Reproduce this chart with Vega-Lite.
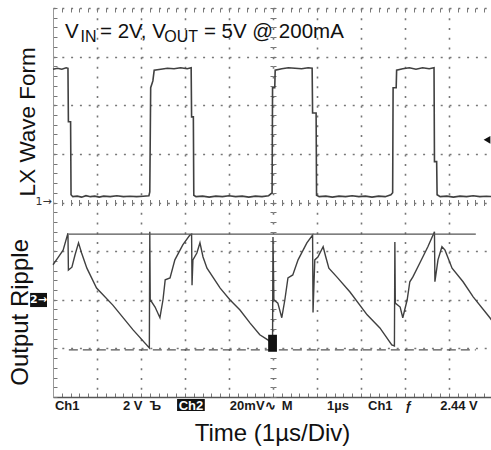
{
  "$schema": "https://vega.github.io/schema/vega-lite/v6.json",
  "width": 438,
  "height": 389,
  "autosize": "none",
  "padding": {"left": 53, "top": 8, "right": 0, "bottom": 53},
  "background": "white",
  "config": {"font": "Liberation Sans", "view": {"stroke": null}},
  "resolve": {"axis": {"x": "independent", "y": "independent"}},
  "layer": [
    {
      "data": {"values": [
        {"t":0,"v":6.74},{"t":0.1,"v":6.76},{"t":0.2,"v":6.74},{"t":0.3,"v":6.77},{"t":0.34,"v":6.76},{"t":0.35,"v":5.66},{"t":0.4,"v":5.66},{"t":0.41,"v":4.16},{"t":0.45,"v":4.12},{"t":0.55,"v":4.13},{"t":0.65,"v":4.11},{"t":0.75,"v":4.14},{"t":0.85,"v":4.12},{"t":0.95,"v":4.13},{"t":1.05,"v":4.11},{"t":1.15,"v":4.13},{"t":1.3,"v":4.12},{"t":1.45,"v":4.14},{"t":1.6,"v":4.12},{"t":1.75,"v":4.13},{"t":1.9,"v":4.12},{"t":2.05,"v":4.13},{"t":2.18,"v":4.14},{"t":2.2,"v":4.22},{"t":2.22,"v":6.36},{"t":2.27,"v":6.5},{"t":2.3,"v":6.72},{"t":2.45,"v":6.74},{"t":2.6,"v":6.76},{"t":2.75,"v":6.75},{"t":2.9,"v":6.77},{"t":3.05,"v":6.75},{"t":3.14,"v":6.77},{"t":3.15,"v":5.76},{"t":3.19,"v":5.76},{"t":3.2,"v":4.15},{"t":3.25,"v":4.12},{"t":3.4,"v":4.13},{"t":3.55,"v":4.11},{"t":3.7,"v":4.13},{"t":3.85,"v":4.12},{"t":4.0,"v":4.14},{"t":4.15,"v":4.12},{"t":4.3,"v":4.13},{"t":4.45,"v":4.11},{"t":4.6,"v":4.13},{"t":4.75,"v":4.12},{"t":4.9,"v":4.14},{"t":4.98,"v":4.2},{"t":4.99,"v":6.36},{"t":5.04,"v":6.36},{"t":5.05,"v":6.72},{"t":5.2,"v":6.75},{"t":5.35,"v":6.77},{"t":5.5,"v":6.76},{"t":5.65,"v":6.75},{"t":5.8,"v":6.77},{"t":5.89,"v":6.76},{"t":5.9,"v":5.84},{"t":5.98,"v":5.84},{"t":5.99,"v":4.15},{"t":6.05,"v":4.12},{"t":6.2,"v":4.13},{"t":6.35,"v":4.11},{"t":6.5,"v":4.13},{"t":6.65,"v":4.12},{"t":6.8,"v":4.14},{"t":6.95,"v":4.12},{"t":7.1,"v":4.13},{"t":7.25,"v":4.11},{"t":7.4,"v":4.13},{"t":7.55,"v":4.12},{"t":7.68,"v":4.16},{"t":7.72,"v":4.2},{"t":7.73,"v":6.36},{"t":7.8,"v":6.36},{"t":7.81,"v":6.72},{"t":7.95,"v":6.75},{"t":8.1,"v":6.77},{"t":8.25,"v":6.74},{"t":8.4,"v":6.77},{"t":8.55,"v":6.75},{"t":8.66,"v":6.77},{"t":8.67,"v":4.84},{"t":8.72,"v":4.84},{"t":8.73,"v":4.16},{"t":8.8,"v":4.12},{"t":8.95,"v":4.13},{"t":9.1,"v":4.11},{"t":9.25,"v":4.13},{"t":9.4,"v":4.12},{"t":9.55,"v":4.14},{"t":9.7,"v":4.12},{"t":9.85,"v":4.13},{"t":10,"v":4.12}
      ]},
      "mark": {"type": "line", "color": "#404040", "strokeWidth": 1.6},
      "encoding": {
        "x": {"field": "t", "type": "quantitative", "scale": {"domain": [0, 9.955], "nice": false, "zero": false},
          "axis": {"orient": "bottom", "grid": true, "values": [1,2,3,4,5,6,7,8,9], "gridDash": [2, 7.725], "gridColor": "#777", "gridWidth": 1.6, "gridOpacity": 1, "ticks": false, "domain": false, "labels": false,
            "title": "Time (1µs/Div)", "titleFont": "Liberation Sans", "titleFontSize": 24, "titleFontWeight": "normal", "titleColor": "#111", "titlePadding": 24}},
        "y": {"field": "v", "type": "quantitative", "scale": {"domain": [0, 8], "nice": false, "zero": false},
          "axis": {"orient": "left", "grid": true, "values": [1,2,3,4,5,6,7,8], "gridDash": [2, 6.8], "gridColor": "#777", "gridWidth": 1.6, "gridOpacity": 1, "ticks": false, "domain": false, "labels": false, "title": null}}
      }
    },
    {
      "data": {"values": [
        {"t":0,"v":2.72},{"t":0.11,"v":2.86},{"t":0.23,"v":3.02},{"t":0.34,"v":3.37},{"t":0.35,"v":2.61},{"t":0.43,"v":2.67},{"t":0.5,"v":2.92},{"t":0.58,"v":3.17},{"t":0.65,"v":2.96},{"t":0.77,"v":2.65},{"t":0.99,"v":2.24},{"t":1.36,"v":1.89},{"t":1.82,"v":1.38},{"t":2.19,"v":1.01},{"t":2.2,"v":3.4},{"t":2.21,"v":2.0},{"t":2.32,"v":1.85},{"t":2.43,"v":1.63},{"t":2.5,"v":2.0},{"t":2.55,"v":2.41},{"t":2.66,"v":2.45},{"t":2.77,"v":2.82},{"t":2.95,"v":3.13},{"t":3.11,"v":3.33},{"t":3.15,"v":3.35},{"t":3.16,"v":2.3},{"t":3.18,"v":2.82},{"t":3.27,"v":2.96},{"t":3.34,"v":3.17},{"t":3.41,"v":2.88},{"t":3.5,"v":2.65},{"t":3.8,"v":2.24},{"t":4.02,"v":2.0},{"t":4.25,"v":1.79},{"t":4.48,"v":1.52},{"t":4.7,"v":1.28},{"t":4.89,"v":1.17},{"t":4.99,"v":1.07},{"t":5.0,"v":3.29},{"t":5.02,"v":2.0},{"t":5.11,"v":1.93},{"t":5.2,"v":1.63},{"t":5.27,"v":2.0},{"t":5.34,"v":2.45},{"t":5.45,"v":2.51},{"t":5.57,"v":2.82},{"t":5.77,"v":3.17},{"t":5.9,"v":3.33},{"t":5.91,"v":1.74},{"t":5.95,"v":2.82},{"t":6.02,"v":2.88},{"t":6.14,"v":3.09},{"t":6.2,"v":2.88},{"t":6.27,"v":2.65},{"t":6.45,"v":2.47},{"t":6.75,"v":2.16},{"t":7.14,"v":1.69},{"t":7.43,"v":1.42},{"t":7.7,"v":1.07},{"t":7.76,"v":1.05},{"t":7.77,"v":3.19},{"t":7.78,"v":1.93},{"t":7.89,"v":1.85},{"t":7.95,"v":1.63},{"t":8.05,"v":2.0},{"t":8.11,"v":2.37},{"t":8.18,"v":2.47},{"t":8.34,"v":2.76},{"t":8.52,"v":3.09},{"t":8.67,"v":3.4},{"t":8.68,"v":2.37},{"t":8.75,"v":2.82},{"t":8.84,"v":3.09},{"t":8.91,"v":3.02},{"t":9.07,"v":2.65},{"t":9.32,"v":2.37},{"t":9.55,"v":2.06},{"t":9.93,"v":1.63},{"t":10,"v":1.54}
      ]},
      "mark": {"type": "line", "color": "#404040", "strokeWidth": 1.4},
      "encoding": {
        "x": {"field": "t", "type": "quantitative", "scale": {"domain": [0, 9.955], "nice": false, "zero": false},
          "axis": {"orient": "top", "offset": -389, "tickCount": 50, "tickSize": 4, "tickColor": "#777", "ticks": true, "domain": true, "domainColor": "#555", "domainWidth": 1.3, "labels": false, "grid": false, "title": null}},
        "y": {"field": "v", "type": "quantitative", "scale": {"domain": [0, 8], "nice": false, "zero": false},
          "axis": {"orient": "right", "offset": -438, "tickCount": 40, "tickSize": 4, "tickColor": "#777", "ticks": true, "domain": true, "domainColor": "#999", "domainWidth": 1, "labels": false, "grid": false, "title": null}}
      }
    },
    {
      "data": {"values": [{"t": 0.36, "t2": 9.61, "v": 3.35}]},
      "mark": {"type": "rule", "color": "#555", "strokeWidth": 1.2},
      "encoding": {
        "x": {"field": "t", "type": "quantitative",
          "axis": {"orient": "bottom", "offset": -389, "tickCount": 50, "tickSize": 4, "tickColor": "#777", "domain": false, "labels": false, "grid": false, "title": null}},
        "x2": {"field": "t2"},
        "y": {"field": "v", "type": "quantitative", "axis": null}
      }
    },
    {
      "data": {"values": [{"t": 0.36, "t2": 9.61, "v": 0.97}]},
      "mark": {"type": "rule", "color": "#555", "strokeWidth": 1.2, "strokeDash": [9, 5]},
      "encoding": {
        "x": {"field": "t", "type": "quantitative",
          "axis": {"orient": "bottom", "offset": -194.5, "tickCount": 50, "tickSize": 3, "tickColor": "#777", "domain": false, "labels": false, "grid": false, "title": null}},
        "x2": {"field": "t2"},
        "y": {"field": "v", "type": "quantitative",
          "axis": {"orient": "left", "offset": -220, "tickCount": 40, "tickSize": 3, "tickColor": "#777", "domain": false, "labels": false, "grid": false, "title": null}}
      }
    },
    {
      "data": {"values": [
        {"t": 4.89, "t2": 5.09, "v": 0.93, "v2": 1.28},
        {"t": -0.52, "t2": -0.136, "v": 1.85, "v2": 2.14},
        {"t": 2.82, "t2": 3.45, "v": -0.04, "v2": -0.29}
      ]},
      "mark": {"type": "rect", "color": "#111"},
      "encoding": {
        "x": {"field": "t", "type": "quantitative",
          "axis": {"orient": "top", "offset": -194.5, "tickCount": 50, "tickSize": 3, "tickColor": "#777", "domain": false, "labels": false, "grid": false, "title": null}},
        "x2": {"field": "t2"},
        "y": {"field": "v", "type": "quantitative",
          "axis": {"orient": "right", "offset": -218, "tickCount": 40, "tickSize": 3, "tickColor": "#777", "domain": false, "labels": false, "grid": false, "title": null}},
        "y2": {"field": "v2"}
      }
    },
    {
      "data": {"values": [{"t": 9.864, "v": 5.29}]},
      "mark": {"type": "point", "shape": "triangle-left", "filled": true, "size": 60, "color": "#111", "opacity": 1},
      "encoding": {
        "x": {"field": "t", "type": "quantitative", "axis": null},
        "y": {"field": "v", "type": "quantitative", "axis": null}
      }
    },
    {
      "data": {"values": [
        {"t": 0.273, "v": 7.38, "s": "V"},
        {"t": 1.068, "v": 7.38, "s": "= 2V, V"},
        {"t": 3.43, "v": 7.38, "s": "= 5V @ 200mA"}
      ]},
      "mark": {"type": "text", "align": "left", "baseline": "alphabetic", "fontSize": 20.5, "color": "#111"},
      "encoding": {
        "x": {"field": "t", "type": "quantitative", "axis": null},
        "y": {"field": "v", "type": "quantitative", "axis": null},
        "text": {"field": "s"}
      }
    },
    {
      "data": {"values": [
        {"t": 0.625, "v": 7.31, "s": "IN"},
        {"t": 2.53, "v": 7.31, "s": "OUT"}
      ]},
      "mark": {"type": "text", "align": "left", "baseline": "alphabetic", "fontSize": 16, "color": "#111"},
      "encoding": {
        "x": {"field": "t", "type": "quantitative", "axis": null},
        "y": {"field": "v", "type": "quantitative", "axis": null},
        "text": {"field": "s"}
      }
    },
    {
      "data": {"values": [{"t": -0.409, "v": 5.66, "s": "LX Wave Form"}]},
      "mark": {"type": "text", "align": "center", "baseline": "alphabetic", "angle": 270, "fontSize": 22.5, "color": "#111"},
      "encoding": {
        "x": {"field": "t", "type": "quantitative", "axis": null},
        "y": {"field": "v", "type": "quantitative", "axis": null},
        "text": {"field": "s"}
      }
    },
    {
      "data": {"values": [{"t": -0.568, "v": 1.74, "s": "Output Ripple"}]},
      "mark": {"type": "text", "align": "center", "baseline": "alphabetic", "angle": 270, "fontSize": 24, "color": "#111"},
      "encoding": {
        "x": {"field": "t", "type": "quantitative", "axis": null},
        "y": {"field": "v", "type": "quantitative", "axis": null},
        "text": {"field": "s"}
      }
    },
    {
      "data": {"values": [
        {"t": 0.045, "v": -0.27, "s": "Ch1"},
        {"t": 1.59, "v": -0.27, "s": "2 V"},
        {"t": 2.2, "v": -0.27, "s": "Ъ"},
        {"t": 4.02, "v": -0.27, "s": "20mV∿"},
        {"t": 5.2, "v": -0.27, "s": "M"},
        {"t": 6.23, "v": -0.27, "s": "1µs"},
        {"t": 7.16, "v": -0.27, "s": "Ch1"},
        {"t": 8.0, "v": -0.27, "s": "ƒ"},
        {"t": 8.8, "v": -0.27, "s": "2.44   V"}
      ]},
      "mark": {"type": "text", "align": "left", "baseline": "alphabetic", "fontSize": 13, "fontWeight": "bold", "color": "#1a1a1a"},
      "encoding": {
        "x": {"field": "t", "type": "quantitative", "axis": null},
        "y": {"field": "v", "type": "quantitative", "axis": null},
        "text": {"field": "s"}
      }
    },
    {
      "data": {"values": [
        {"t": 3.136, "v": -0.27, "s": "Ch2"}
      ]},
      "mark": {"type": "text", "align": "center", "baseline": "alphabetic", "fontSize": 13, "fontWeight": "bold", "color": "white"},
      "encoding": {
        "x": {"field": "t", "type": "quantitative", "axis": null},
        "y": {"field": "v", "type": "quantitative", "axis": null},
        "text": {"field": "s"}
      }
    },
    {
      "data": {"values": [
        {"t": -0.33, "v": 2.0, "s": "2→"}
      ]},
      "mark": {"type": "text", "align": "center", "baseline": "middle", "fontSize": 11, "fontWeight": "bold", "color": "white", "font": "DejaVu Sans"},
      "encoding": {
        "x": {"field": "t", "type": "quantitative", "axis": null},
        "y": {"field": "v", "type": "quantitative", "axis": null},
        "text": {"field": "s"}
      }
    },
    {
      "data": {"values": [
        {"t": -0.03, "v": 4.01, "s": "1→"}
      ]},
      "mark": {"type": "text", "align": "right", "baseline": "middle", "fontSize": 11, "color": "#333", "font": "DejaVu Sans"},
      "encoding": {
        "x": {"field": "t", "type": "quantitative", "axis": null},
        "y": {"field": "v", "type": "quantitative", "axis": null},
        "text": {"field": "s"}
      }
    }
  ]
}
